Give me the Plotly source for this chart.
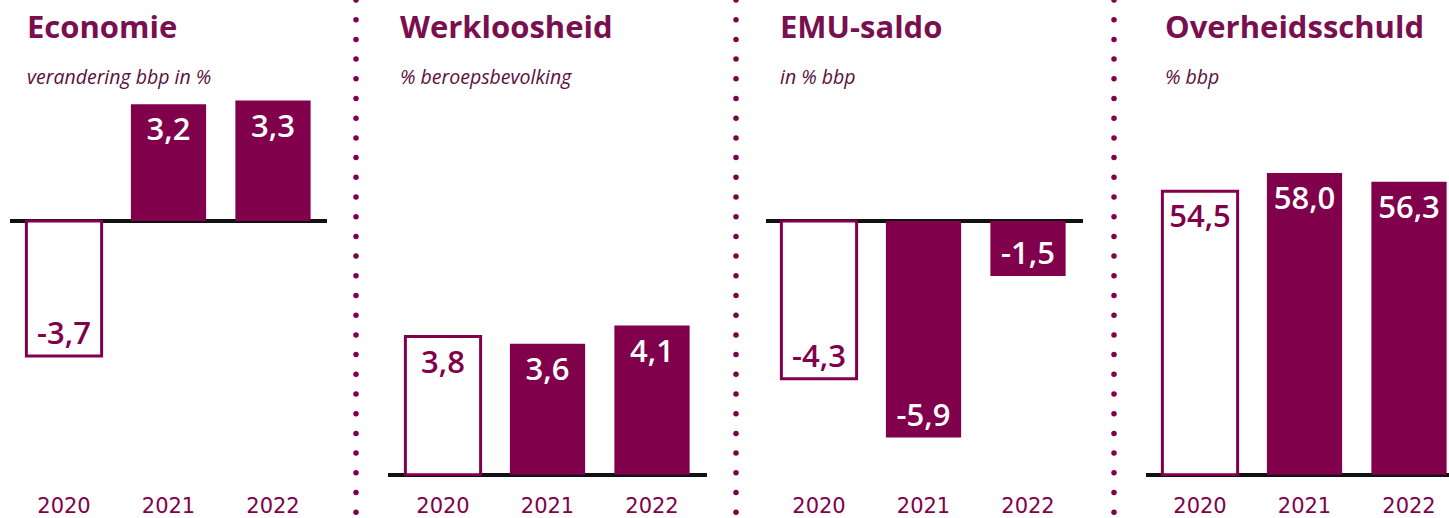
import plotly.graph_objects as go

W, H = 1449, 518
PURPLE = "#80004b"
TITLE_C = "#7a0f50"

years = ["2020", "2021", "2022"]
titles = ["Economie", "Werkloosheid", "EMU-saldo", "Overheidsschuld"]
subtitles = ["verandering bbp in %", "% beroepsbevolking", "in % bbp", "% bbp"]
economie = [-3.7, 3.2, 3.3]
werkloosheid = [3.8, 3.6, 4.1]
emu_saldo = [-4.3, -5.9, -1.5]
schuld = [54.5, 58.0, 56.3]
series = [economie, werkloosheid, emu_saldo, schuld]

# layout (pixels)
panel_left = [10, 388, 766, 1146]
panel_c0 = [64, 443, 819, 1200]
panel_right = [327, 707, 1083, 1449]
title_x = [25, 398, 778, 1163]
spacing = 104.5
plot_top, plot_bottom = 90, 476
baseline_px = [221, 476, 221, 476]
px_per_unit = [36.5, 36.5, 36.7, 5.22]
sep_x = [356, 736, 1114]

fig = go.Figure()
for i, vals in enumerate(series):
    ax = "" if i == 0 else str(i + 1)
    labels = [f"{v:.1f}".replace(".", ",") for v in vals]
    fig.add_trace(go.Bar(
        x=years, y=vals, text=labels,
        textposition="inside", insidetextanchor="end", textangle=0,
        textfont=dict(family="Open Sans", size=31, weight=600,
                      color=[PURPLE, "white", "white"]),
        marker=dict(color=["white", PURPLE, PURPLE],
                    line=dict(color=PURPLE, width=[3, 0, 0])),
        width=0.72, xaxis="x" + ax, yaxis="y" + ax, showlegend=False,
        cliponaxis=False, hoverinfo="skip"))
    L, C0, R = panel_left[i], panel_c0[i], panel_right[i]
    ymin = -(plot_bottom - baseline_px[i]) / px_per_unit[i]
    ymax = (baseline_px[i] - plot_top) / px_per_unit[i]
    if ymin == 0:
        ymin = -1.2 / px_per_unit[i]
    fig.update_layout(**{
        "xaxis" + ax: dict(domain=[L / W, R / W], type="category",
                           range=[(L - C0) / spacing, (R - C0) / spacing],
                           showgrid=False, zeroline=False, showline=False,
                           ticks="", ticklabelstandoff=15,
                           tickfont=dict(family="DejaVu Sans", size=21, color=PURPLE),
                           anchor="y" + ax, fixedrange=True),
        "yaxis" + ax: dict(domain=[1 - plot_bottom / H, 1 - plot_top / H],
                           range=[ymin, ymax], showgrid=False, showticklabels=False,
                           zeroline=True, zerolinecolor="#111111", zerolinewidth=4,
                           showline=False, anchor="x" + ax, fixedrange=True),
    })
    fig.add_annotation(text=titles[i], xref="paper", yref="paper",
                       x=title_x[i] / W, y=1 - 26 / H, xanchor="left", yanchor="middle",
                       showarrow=False,
                       font=dict(family="Open Sans", size=31, weight=700, color=TITLE_C))
    fig.add_annotation(text=subtitles[i], xref="paper", yref="paper",
                       x=title_x[i] / W, y=1 - 76 / H, xanchor="left", yanchor="middle",
                       showarrow=False,
                       font=dict(family="Open Sans", size=19.5, style="italic", color="#5a1040"))

# dotted separators (decoration)
dot_step = 19.7
n_dots = int(H / dot_step) + 1
for sx in sep_x:
    fig.add_trace(go.Scatter(
        x=[sx] * n_dots, y=[k * dot_step for k in range(n_dots)],
        mode="markers", marker=dict(size=5.5, color=PURPLE),
        xaxis="x5", yaxis="y5", showlegend=False, hoverinfo="skip", cliponaxis=False))
fig.update_layout(
    xaxis5=dict(domain=[0, 1], range=[0, W], visible=False, anchor="y5", fixedrange=True),
    yaxis5=dict(domain=[0, 1], range=[H, 0], visible=False, anchor="x5", fixedrange=True),
)

fig.update_layout(width=W, height=H, autosize=False,
                  margin=dict(l=0, r=0, t=0, b=0),
                  paper_bgcolor="white", plot_bgcolor="rgba(0,0,0,0)")
fig.write_html("out.html", config={"displayModeBar": False},
               post_script="document.body.style.margin='0';document.body.style.overflow='hidden';")
